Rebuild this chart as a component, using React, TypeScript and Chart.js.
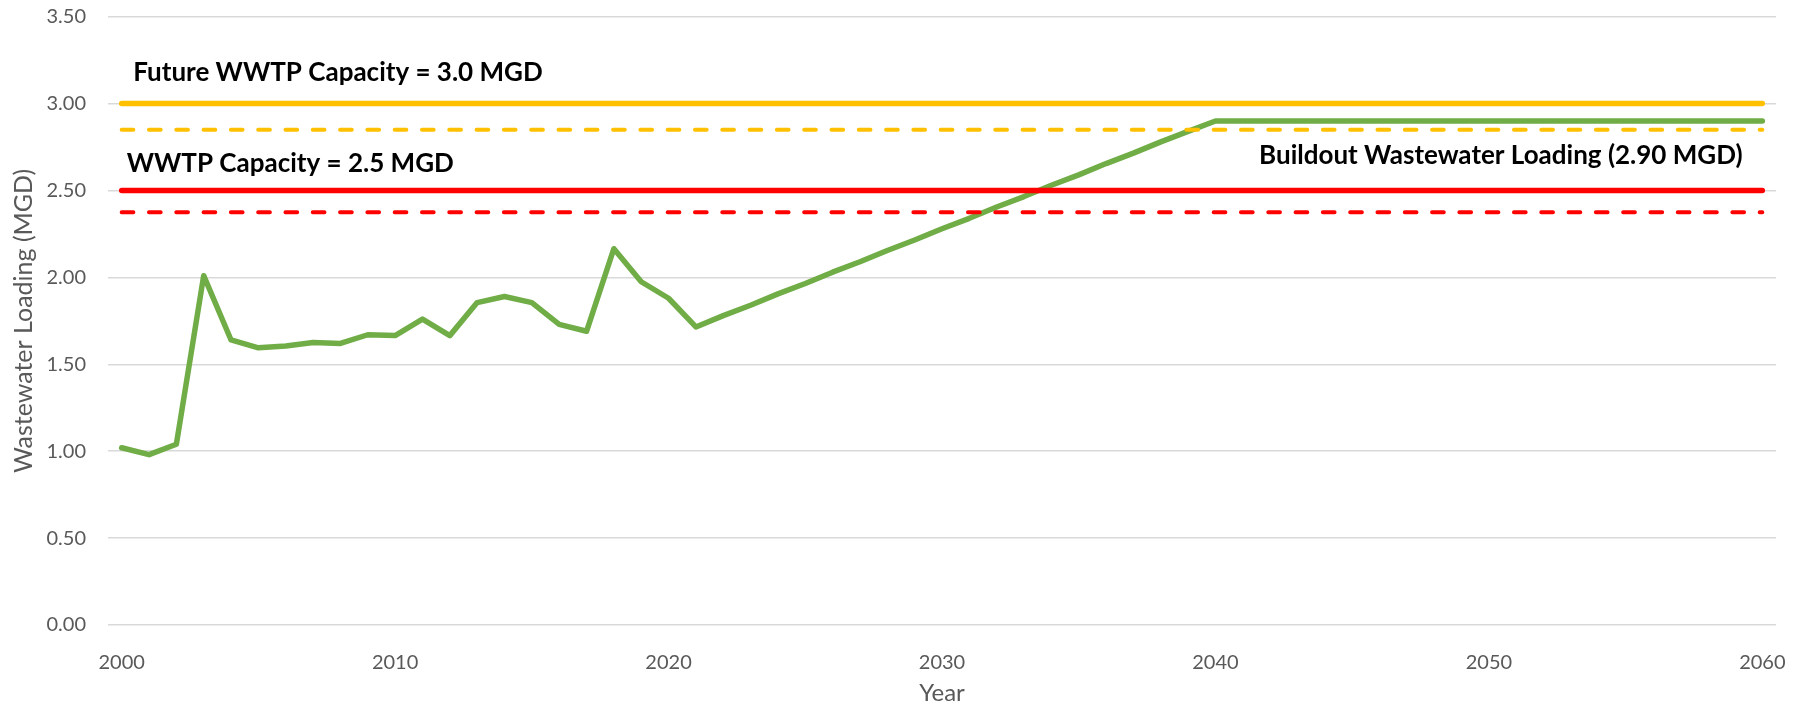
import React, { useEffect, useRef } from 'react';
import { Chart, registerables } from 'chart.js';

Chart.register(...registerables);

const YEARS = [
  '2000', '2001', '2002', '2003', '2004', '2005', '2006', '2007', '2008', '2009',
  '2010', '2011', '2012', '2013', '2014', '2015', '2016', '2017', '2018', '2019',
  '2020', '2021', '2022', '2023', '2024', '2025', '2026', '2027', '2028', '2029',
  '2030', '2031', '2032', '2033', '2034', '2035', '2036', '2037', '2038', '2039',
  '2040', '2041', '2042', '2043', '2044', '2045', '2046', '2047', '2048', '2049',
  '2050', '2051', '2052', '2053', '2054', '2055', '2056', '2057', '2058', '2059',
  '2060',
];

const X_TICK_LABELS = ['2000', '2010', '2020', '2030', '2040', '2050', '2060'];

// Wastewater loading (MGD): historical 2000-2021, projected 2022-2060
const WASTEWATER_LOADING = [
  1.02, 0.98, 1.04, 2.01, 1.64, 1.595, 1.605, 1.625, 1.62, 1.67,
  1.665, 1.76, 1.665, 1.855, 1.89, 1.855, 1.73, 1.69, 2.165, 1.975,
  1.88, 1.715, 1.78, 1.84, 1.905, 1.965, 2.03, 2.09, 2.155, 2.215,
  2.28, 2.34, 2.405, 2.465, 2.53, 2.59, 2.655, 2.715, 2.78, 2.84,
  2.9, 2.9, 2.9, 2.9, 2.9, 2.9, 2.9, 2.9, 2.9, 2.9,
  2.9, 2.9, 2.9, 2.9, 2.9, 2.9, 2.9, 2.9, 2.9, 2.9,
  2.9,
];

const FUTURE_CAPACITY = [3.0, 3.0];
const FUTURE_CAPACITY_95 = [2.85, 2.85];
const CURRENT_CAPACITY = [2.5, 2.5];
const CURRENT_CAPACITY_95 = [2.375, 2.375];
const REF_LINE_YEARS = ['2000', '2060'];

const Y_MIN = 0;
const Y_MAX = 3.5;
const Y_STEP = 0.5;

const LABELS = [
  { text: 'Future WWTP Capacity = 3.0 MGD', year: '2000', value: 3.132, dx: 11.6, align: 'left' },
  { text: 'WWTP Capacity = 2.5 MGD', year: '2000', value: 2.605, dx: 5, align: 'left' },
  { text: 'Buildout Wastewater Loading (2.90 MGD)', year: '2060', value: 2.653, dx: -19.7, align: 'right' },
];

const FONT = 'Lato, "Open Sans", sans-serif';

const refLine = (values: number[]) => values.map((v, i) => ({ x: REF_LINE_YEARS[i], y: v }));

const textPlugin = {
  id: 'textLabels',
  afterDatasetsDraw(chart: any) {
    const { ctx, scales } = chart;
    const xs = scales.x;
    const ys = scales.y;
    ctx.save();
    ctx.font = `bold 26px ${FONT}`;
    ctx.fillStyle = '#000000';
    ctx.textBaseline = 'alphabetic';
    for (const l of LABELS) {
      const x = xs.getPixelForValue(YEARS.indexOf(l.year)) + l.dx;
      const y = ys.getPixelForValue(l.value);
      ctx.textAlign = l.align as CanvasTextAlign;
      ctx.fillText(l.text, x, y);
    }
    ctx.restore();
  },
};

export default function App() {
  const canvasRef = useRef<HTMLCanvasElement | null>(null);

  useEffect(() => {
    const canvas = canvasRef.current;
    if (!canvas) return;
    const chart = new Chart(canvas, {
      type: 'line',
      data: {
        labels: YEARS,
        datasets: [
          {
            label: 'WWTP Capacity (95%)',
            data: refLine(CURRENT_CAPACITY_95) as any,
            borderColor: '#FF0000',
            borderWidth: 4,
            borderDash: [11.7, 15.6],
            borderCapStyle: 'round',
            pointRadius: 0,
          },
          {
            label: 'WWTP Capacity',
            data: refLine(CURRENT_CAPACITY) as any,
            borderColor: '#FF0000',
            borderWidth: 5.5,
            borderCapStyle: 'round',
            pointRadius: 0,
          },
          {
            label: 'Future WWTP Capacity (95%)',
            data: refLine(FUTURE_CAPACITY_95) as any,
            borderColor: '#FFC000',
            borderWidth: 4,
            borderDash: [11.7, 15.6],
            borderCapStyle: 'round',
            pointRadius: 0,
          },
          {
            label: 'Future WWTP Capacity',
            data: refLine(FUTURE_CAPACITY) as any,
            borderColor: '#FFC000',
            borderWidth: 5.5,
            borderCapStyle: 'round',
            pointRadius: 0,
          },
          {
            label: 'Wastewater Loading',
            data: WASTEWATER_LOADING,
            borderColor: '#70AD47',
            borderWidth: 5.5,
            borderCapStyle: 'round',
            borderJoinStyle: 'round',
            pointRadius: 0,
            tension: 0,
          },
        ],
      },
      options: {
        responsive: false,
        animation: false,
        events: [],
        layout: { padding: { left: 0, right: 34, top: 16.7, bottom: 0 } },
        plugins: {
          legend: { display: false },
          tooltip: { enabled: false },
          title: { display: false },
        },
        scales: {
          x: {
            type: 'category',
            offset: true,
            grid: { display: false },
            border: { display: false },
            ticks: {
              autoSkip: false,
              maxRotation: 0,
              minRotation: 0,
              padding: 18,
              color: '#595959',
              font: { family: FONT, size: 20 },
              callback: (_v: any, i: number) => (X_TICK_LABELS.includes(YEARS[i]) ? YEARS[i] : null),
            },
            title: {
              display: true,
              text: 'Year',
              color: '#595959',
              font: { family: FONT, size: 24 },
              padding: { top: 0, bottom: 3.6 },
            },
            afterFit: (scale: any) => {
              scale.height = 86;
              scale.paddingLeft = 0;
              scale.paddingRight = 0;
            },
          },
          y: {
            min: Y_MIN,
            max: Y_MAX,
            grid: { color: '#D9D9D9', lineWidth: 1.5, drawTicks: false },
            border: { display: false },
            ticks: {
              stepSize: Y_STEP,
              padding: 22,
              color: '#595959',
              font: { family: FONT, size: 20 },
              callback: (v: any) => Number(v).toFixed(2),
            },
            title: {
              display: true,
              text: 'Wastewater Loading (MGD)',
              color: '#595959',
              font: { family: FONT, size: 25 },
              padding: { top: 9, bottom: 0 },
            },
            afterFit: (scale: any) => {
              scale.width = 108;
              scale.paddingTop = 0;
              scale.paddingBottom = 0;
            },
          },
        },
      },
      plugins: [textPlugin],
    });
    return () => chart.destroy();
  }, []);

  return (
    <div style={{ position: 'fixed', left: 0, top: 0, width: 1810, height: 711, background: '#ffffff' }}>
      <canvas ref={canvasRef} width={1810} height={711} style={{ display: 'block' }} />
    </div>
  );
}
